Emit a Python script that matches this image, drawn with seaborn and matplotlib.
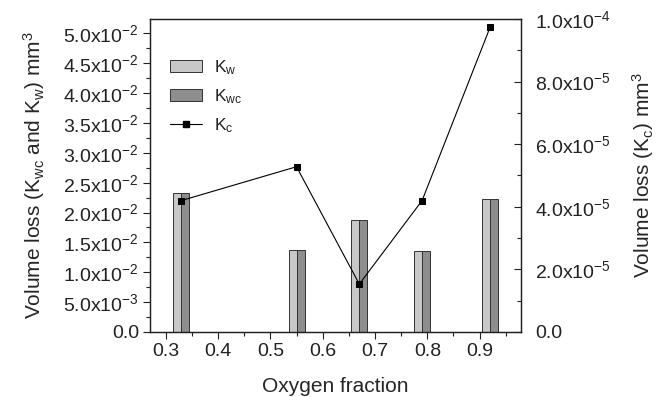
import numpy as np
import pandas as pd
import matplotlib
matplotlib.use("Agg")
import matplotlib.pyplot as plt
import seaborn as sns
from matplotlib.ticker import MultipleLocator, FixedLocator

# data
oxygen = [0.33, 0.55, 0.67, 0.79, 0.92]
k_w = [0.0233, 0.0137, 0.0188, 0.0135, 0.0223]
k_wc = [0.0233, 0.0137, 0.0188, 0.0135, 0.0223]
k_c = [4.2e-5, 5.28e-5, 1.53e-5, 4.2e-5, 9.74e-5]

left_ticks = [0.0, 0.005, 0.010, 0.015, 0.020, 0.025, 0.030, 0.035, 0.040, 0.045, 0.050]
left_labels = ["0.0", "5.0x10$^{-3}$", "1.0x10$^{-2}$", "1.5x10$^{-2}$", "2.0x10$^{-2}$",
               "2.5x10$^{-2}$", "3.0x10$^{-2}$", "3.5x10$^{-2}$", "4.0x10$^{-2}$",
               "4.5x10$^{-2}$", "5.0x10$^{-2}$"]
right_ticks = [0.0, 2e-5, 4e-5, 6e-5, 8e-5, 1e-4]
right_labels = ["0.0", "2.0x10$^{-5}$", "4.0x10$^{-5}$", "6.0x10$^{-5}$",
                "8.0x10$^{-5}$", "1.0x10$^{-4}$"]

LIGHT = "#c8c8c8"
DARK = "#8e8e8e"
TICK_FS = 14
LABEL_FS = 15

sns.set_theme(style="ticks")
plt.rcParams.update({
    "font.family": ["Liberation Sans", "DejaVu Sans"],
    "mathtext.fontset": "custom",
    "mathtext.rm": "Liberation Sans",
    "mathtext.it": "Liberation Sans",
    "font.size": 12,
    "axes.linewidth": 0.9,
    "axes.edgecolor": "#222222",
    "text.color": "#222222",
    "xtick.color": "#222222",
    "ytick.color": "#222222",
})

bars = pd.DataFrame({
    "x": oxygen * 2,
    "y": k_w + k_wc,
    "series": ["K$_w$"] * len(oxygen) + ["K$_{wc}$"] * len(oxygen),
})

fig = plt.figure(figsize=(6.67, 3.97), dpi=100)
ax = fig.add_axes([150 / 667, 1 - 332 / 397, 371 / 667, 313 / 397])

sns.barplot(data=bars, x="x", y="y", hue="series", native_scale=True,
            palette=[LIGHT, DARK], width=0.255, gap=0, edgecolor="#333333",
            linewidth=0.7, ax=ax, legend=False, errorbar=None, saturation=1)

ax2 = ax.twinx()
sns.lineplot(x=oxygen, y=k_c, ax=ax2, color="black", lw=0.8, marker="s",
             markersize=4, markeredgecolor="black")

ax.set_xlim(0.27, 0.979)
ax.set_ylim(0, 0.0524)
ax2.set_ylim(0, 1.0e-4)

ax.set_xticks([0.3, 0.4, 0.5, 0.6, 0.7, 0.8, 0.9])
ax.set_xticklabels(["0.3", "0.4", "0.5", "0.6", "0.7", "0.8", "0.9"])
ax.xaxis.set_minor_locator(MultipleLocator(0.05))
ax.yaxis.set_major_locator(FixedLocator(left_ticks))
ax.set_yticklabels(left_labels)
ax.yaxis.set_minor_locator(MultipleLocator(0.0025))
ax2.yaxis.set_major_locator(FixedLocator(right_ticks))
ax2.set_yticklabels(right_labels)
ax2.yaxis.set_minor_locator(MultipleLocator(1e-5))

ax.tick_params(axis="both", which="major", direction="out", length=5, width=0.8,
               labelsize=TICK_FS, pad=3)
ax.tick_params(axis="both", which="minor", direction="out", length=3, width=0.8)
ax2.tick_params(axis="y", which="major", direction="in", length=5, width=0.8,
                labelsize=TICK_FS, pad=10)
ax2.tick_params(axis="y", which="minor", direction="in", length=3, width=0.8)

ax.set_xlabel("Oxygen fraction", fontsize=LABEL_FS, labelpad=12)
ax.set_ylabel("Volume loss (K$_{wc}$ and K$_w$) mm$^3$", fontsize=LABEL_FS, labelpad=12)
ax2.set_ylabel("Volume loss (K$_c$) mm$^3$", fontsize=LABEL_FS, labelpad=14)

for a in (ax, ax2):
    for s in a.spines.values():
        s.set_visible(True)
        s.set_linewidth(0.9)

handles = [
    plt.Rectangle((0, 0), 1, 1, facecolor=LIGHT, edgecolor="#333333", lw=0.7),
    plt.Rectangle((0, 0), 1, 1, facecolor=DARK, edgecolor="#333333", lw=0.7),
    plt.Line2D([], [], color="black", lw=0.8, marker="s", markersize=4),
]
ax.legend(handles, ["K$_w$", "K$_{wc}$", "K$_c$"], loc="upper left",
          bbox_to_anchor=(0.055, 0.875), frameon=False, borderpad=0,
          borderaxespad=0, handlelength=1.8, handleheight=0.7,
          handletextpad=0.7, labelspacing=0.6, fontsize=12.5)

fig.savefig("out.png", dpi=100)
